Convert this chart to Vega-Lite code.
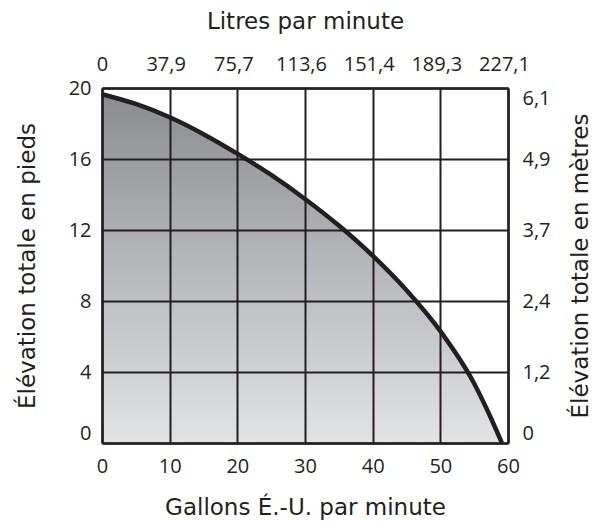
{
  "$schema": "https://vega.github.io/schema/vega-lite/v6.json",
  "autosize": "none",
  "width": 406,
  "height": 355,
  "padding": {"left": 102, "top": 88, "right": 93, "bottom": 78},
  "background": "white",
  "config": {
    "view": {"stroke": null},
    "font": "DejaVu Sans",
    "axis": {
      "labelFont": "Open Sans",
      "titleFont": "DejaVu Sans",
      "labelFontSize": 20,
      "titleFontSize": 23,
      "labelColor": "#231f20",
      "titleColor": "#231f20",
      "titleFontWeight": "normal",
      "domainColor": "#231f20",
      "domainWidth": 2.5,
      "gridColor": "#231f20",
      "gridWidth": 2,
      "gridOpacity": 1,
      "ticks": false,
      "labelOverlap": false,
      "labelFlush": false
    }
  },
  "data": {
    "values": [
      {"gpm": 0, "ft": 19.65},
      {"gpm": 5, "ft": 19.1},
      {"gpm": 10, "ft": 18.35},
      {"gpm": 15, "ft": 17.4},
      {"gpm": 20, "ft": 16.3},
      {"gpm": 25, "ft": 15.1},
      {"gpm": 30, "ft": 13.75},
      {"gpm": 35, "ft": 12.25},
      {"gpm": 40, "ft": 10.55},
      {"gpm": 45, "ft": 8.6},
      {"gpm": 50, "ft": 6.3},
      {"gpm": 55, "ft": 3.35},
      {"gpm": 57, "ft": 1.8},
      {"gpm": 59.1, "ft": 0}
    ]
  },
  "resolve": {"axis": {"x": "independent", "y": "independent"}},
  "layer": [
    {
      "mark": {
        "type": "area",
        "interpolate": "monotone",
        "color": {
          "gradient": "linear",
          "x1": 0, "y1": 0, "x2": 0, "y2": 1,
          "stops": [
            {"offset": 0, "color": "#8b8c90"},
            {"offset": 1, "color": "#e2e3e5"}
          ]
        }
      },
      "encoding": {
        "x": {
          "field": "gpm", "type": "quantitative",
          "scale": {"domain": [0, 60], "nice": false, "zero": false},
          "axis": {
            "orient": "bottom",
            "zindex": 1,
            "values": [0, 10, 20, 30, 40, 50, 60],
            "grid": true,
            "labelFlush": false,
            "labelPadding": 13,
            "title": "Gallons É.-U. par minute",
            "titlePadding": 20
          }
        },
        "y": {
          "field": "ft", "type": "quantitative",
          "scale": {"domain": [0, 20], "nice": false},
          "axis": {
            "orient": "left",
            "zindex": 1,
            "values": [0, 4, 8, 12, 16, 20],
            "grid": true,
            "labelPadding": 11,
            "labelBaseline": {"condition": {"test": "datum.value == 0", "value": "bottom"}, "value": "middle"},
            "title": "Élévation totale en pieds",
            "titlePadding": 29
          }
        }
      }
    },
    {
      "mark": {"type": "line", "interpolate": "monotone", "color": "#231f20", "strokeWidth": 4.5},
      "encoding": {
        "x": {
          "field": "gpm", "type": "quantitative",
          "axis": {
            "orient": "top",
            "zindex": 1,
            "values": [0, 10, 20, 30, 40, 50, 60],
            "grid": false,
            "labelFlush": false,
            "labelPadding": 14,
            "labelOffset": {"condition": {"test": "datum.value == 0", "value": 0}, "value": -4},
            "labelExpr": "datum.value == 0 ? '0' : replace(format(datum.value * 3.78541, '.1f'), '.', ',')",
            "title": "Litres par minute",
            "titlePadding": 21
          }
        },
        "y": {
          "field": "ft", "type": "quantitative",
          "axis": {
            "orient": "right",
            "zindex": 1,
            "values": [0, 4, 8, 12, 16, 20],
            "grid": false,
            "labelPadding": 14,
            "labelBaseline": {"condition": [{"test": "datum.value == 0", "value": "bottom"}, {"test": "datum.value == 20", "value": "top"}], "value": "middle"},
            "labelExpr": "datum.value == 0 ? '0' : replace(format(datum.value * 0.3048, '.1f'), '.', ',')",
            "title": "Élévation totale en mètres",
            "titleAngle": 270,
            "titleBaseline": "top",
            "titlePadding": 19
          }
        }
      }
    }
  ]
}
